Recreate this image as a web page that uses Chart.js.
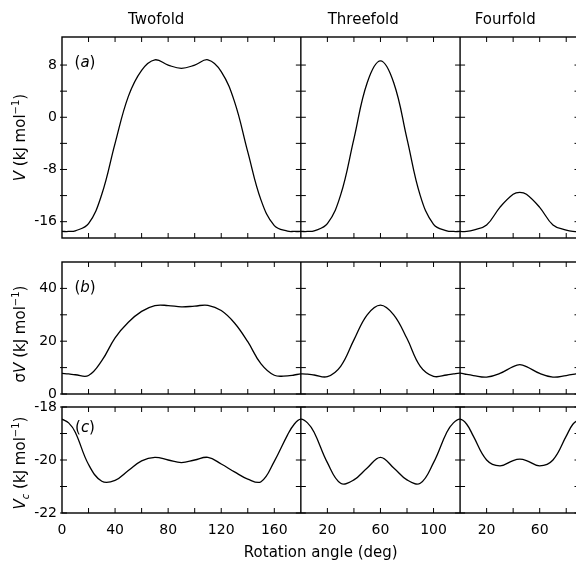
<!DOCTYPE html>
<html>
<head>
<meta charset="utf-8">
<script src="https://cdn.jsdelivr.net/npm/chart.js@4.4.1/dist/chart.umd.min.js"></script>
<style>
  html, body { margin: 0; padding: 0; background: #fff; overflow: hidden; }
  #wrap { position: relative; width: 576px; height: 562px; overflow: hidden; }
  canvas { position: absolute; left: 0; }
</style>
</head>
<body>
<div id="wrap">
  <canvas id="chartA" width="584" height="246" style="top:0px"></canvas>
  <canvas id="chartB" width="584" height="152" style="top:250px"></canvas>
  <canvas id="chartC" width="584" height="165" style="top:397px"></canvas>
</div>
<script>
// rotation angles (deg) sampled in each section
const twofoldAngles = [0, 5, 10, 20, 30, 40, 50, 60, 70, 80, 90, 100, 110, 120, 130, 140, 150, 160, 170, 175, 180];
const threefoldAngles = [0, 5, 10, 20, 30, 40, 50, 60, 70, 80, 90, 100, 110, 115, 120];
const fourfoldAngles = [0, 5, 10, 20, 30, 40, 45, 50, 60, 70, 80, 85, 90];
const sectionNames = ['Twofold', 'Threefold', 'Fourfold'];
const sectionStart = [0, 180, 300];   // where each section begins on the shared axis
const sectionEnd = 390;

// (a) V
const vTwofold = [-17.5, -17.5, -17.4, -16.3, -11.8, -4.0, 3.2, 7.2, 8.8, 8.0, 7.5, 8.0, 8.8, 7.0, 2.4, -5.3, -12.7, -16.6, -17.45, -17.5, -17.5];
const vThreefold = [-17.5, -17.5, -17.4, -16.3, -11.9, -3.3, 5.3, 8.65, 5.3, -3.3, -12.0, -16.4, -17.4, -17.5, -17.5];
const vFourfold = [-17.5, -17.5, -17.3, -16.5, -13.8, -11.8, -11.5, -11.8, -13.8, -16.5, -17.3, -17.5, -17.5];

// (b) sigma V
const sdTwofold = [7.8, 7.6, 7.3, 7.0, 12.6, 21.3, 27.2, 31.3, 33.5, 33.5, 33.0, 33.3, 33.6, 31.6, 26.9, 19.8, 11.4, 7.1, 6.9, 7.2, 7.6];
const sdThreefold = [7.6, 7.5, 7.2, 6.6, 10.5, 20.5, 30.0, 33.7, 30.0, 21.0, 10.5, 6.7, 7.2, 7.6, 7.9];
const sdFourfold = [7.9, 7.4, 7.0, 6.4, 7.8, 10.4, 11.1, 10.4, 7.8, 6.4, 7.0, 7.4, 7.9];

// (c) Vc
const vcTwofold = [-18.46, -18.6, -18.95, -20.17, -20.8, -20.77, -20.4, -20.03, -19.9, -20.0, -20.1, -20.0, -19.9, -20.15, -20.45, -20.72, -20.82, -20.05, -19.05, -18.65, -18.46];
const vcThreefold = [-18.46, -18.6, -18.95, -20.1, -20.88, -20.75, -20.3, -19.9, -20.3, -20.75, -20.88, -20.1, -18.95, -18.6, -18.46];
const vcFourfold = [-18.46, -18.65, -19.1, -20.0, -20.22, -20.02, -19.97, -20.02, -20.22, -20.0, -19.1, -18.65, -18.46];

// axis ticks
const xTickLabels = {0: '0', 40: '40', 80: '80', 120: '120', 160: '160', 200: '20', 240: '60', 280: '100', 320: '20', 360: '60'};
const vTicks = [-16, -12, -8, -4, 0, 4, 8];
const vLabels = [-16, -8, 0, 8];
const sdTicks = [0, 10, 20, 30, 40];
const sdLabels = [0, 20, 40];
const vcTicks = [-22, -21, -20, -19, -18];
const vcLabels = [-22, -20, -18];

const FONT = '"DejaVu Sans", sans-serif';

// join the three sections into one continuous line on the shared axis
function joinSections(a2, a3, a4) {
  const pts = twofoldAngles.map((t, i) => ({x: t + sectionStart[0], y: a2[i]}));
  threefoldAngles.forEach((t, i) => { if (i > 0) pts.push({x: t + sectionStart[1], y: a3[i]}); });
  fourfoldAngles.forEach((t, i) => { if (i > 0) pts.push({x: t + sectionStart[2], y: a4[i]}); });
  return pts;
}

function fontOf(p) {
  return (p.it ? 'italic ' : '') + (p.size || 15) + 'px ' + FONT;
}

// draw text made of several styled pieces, centred on (x, y)
function richText(ctx, parts, x, y, rotated) {
  ctx.save();
  ctx.translate(x, y);
  if (rotated) ctx.rotate(-Math.PI / 2);
  ctx.textBaseline = 'middle';
  ctx.textAlign = 'left';
  ctx.fillStyle = '#000';
  let w = 0;
  parts.forEach(p => { ctx.font = fontOf(p); p.w = ctx.measureText(p.t).width; w += p.w; });
  let cx = -w / 2;
  parts.forEach(p => { ctx.font = fontOf(p); ctx.fillText(p.t, cx, p.dy || 0); cx += p.w; });
  ctx.restore();
}

// frame, section dividers, inward ticks, panel letter and y title
const panelDecor = {
  id: 'panelDecor',
  afterDatasetsDraw(chart, args, opts) {
    const {ctx, chartArea: a, scales: {x, y}} = chart;
    const line = (x1, y1, x2, y2) => { ctx.beginPath(); ctx.moveTo(x1, y1); ctx.lineTo(x2, y2); ctx.stroke(); };
    ctx.save();
    ctx.strokeStyle = '#000';
    ctx.lineWidth = 1;
    const dividers = sectionStart.slice(1).map(v => x.getPixelForValue(v));
    x.ticks.forEach(t => {
      if (sectionStart.includes(t.value)) return;
      const px = x.getPixelForValue(t.value);
      line(px, a.top, px, a.top + 5);
      line(px, a.bottom - 5, px, a.bottom);
    });
    y.ticks.forEach(t => {
      const py = y.getPixelForValue(t.value);
      line(a.left - 2, py, a.left + 5, py);
      dividers.forEach(px => line(px - 5, py, px + 5, py));
      line(a.right - 5, py, a.right, py);
    });
    ctx.lineWidth = 1.4;
    ctx.strokeRect(a.left, a.top, a.right - a.left, a.bottom - a.top);
    dividers.forEach(px => line(px, a.top, px, a.bottom));

    richText(ctx, [{t: '('}, {t: opts.letter, it: true}, {t: ')'}], a.left + 23, a.top + opts.letterDy, false);
    richText(ctx, opts.yTitle, 21, (a.top + a.bottom) / 2 + opts.titleDy, true);

    if (opts.sections) {
      ctx.font = '15px ' + FONT;
      ctx.textAlign = 'center';
      ctx.textBaseline = 'middle';
      ctx.fillStyle = '#000';
      opts.sections.forEach((s, i) => ctx.fillText(sectionNames[i], x.getPixelForValue(s), 20));
    }
    ctx.restore();
  }
};

function makeChart(id, data, yMin, yMax, ticks, labels, decor, padding, showX) {
  return new Chart(document.getElementById(id), {
    type: 'line',
    data: {
      datasets: [{
        data: data,
        borderColor: '#000',
        borderWidth: 1.3,
        pointRadius: 0,
        tension: 0.4,
        fill: false
      }]
    },
    options: {
      responsive: false,
      animation: false,
      layout: {padding: padding},
      plugins: {legend: {display: false}, tooltip: {enabled: false}, panelDecor: decor},
      scales: {
        x: {
          type: 'linear',
          min: 0,
          max: sectionEnd,
          display: showX,
          grid: {display: false, drawTicks: false},
          border: {display: false},
          afterBuildTicks: s => {
            const t = [];
            for (let v = 0; v < sectionEnd; v += 20) t.push({value: v});
            s.ticks = t;
          },
          afterFit: s => {
            s.height = showX ? 49 : 0;
            s.paddingLeft = s.paddingRight = 0;
          },
          ticks: {
            autoSkip: false,
            maxRotation: 0,
            padding: 9,
            color: '#000',
            font: {family: FONT, size: 14},
            callback: v => xTickLabels[v] || ''
          },
          title: {
            display: true,
            text: 'Rotation angle (deg)',
            color: '#000',
            font: {family: FONT, size: 15},
            padding: {top: 0, bottom: 0}
          }
        },
        y: {
          min: yMin,
          max: yMax,
          grid: {display: false, drawTicks: false},
          border: {display: false},
          afterBuildTicks: s => { s.ticks = ticks.map(v => ({value: v})); },
          afterFit: s => {
            s.width = 62;
            s.paddingTop = s.paddingBottom = 0;
          },
          ticks: {
            padding: 5,
            color: '#000',
            font: {family: FONT, size: 14},
            callback: v => labels.includes(v) ? String(v) : ''
          }
        }
      }
    },
    plugins: [panelDecor]
  });
}

const kjmol = [{t: ' (kJ mol'}, {t: '\u22121', size: 10, dy: -5}, {t: ')'}];

makeChart('chartA', joinSections(vTwofold, vThreefold, vFourfold), -18.5, 12.3, vTicks, vLabels,
  {letter: 'a', letterDy: 26, titleDy: 0, yTitle: [{t: 'V', it: true}].concat(kjmol), sections: [71, 227, 334]},
  {top: 37, bottom: 8, left: 0, right: 4.5}, false);

makeChart('chartB', joinSections(sdTwofold, sdThreefold, sdFourfold), 0, 50, sdTicks, sdLabels,
  {letter: 'b', letterDy: 26, titleDy: 6, yTitle: [{t: '\u03c3'}, {t: 'V', it: true}].concat(kjmol)},
  {top: 12, bottom: 8, left: 0, right: 4.5}, false);

makeChart('chartC', joinSections(vcTwofold, vcThreefold, vcFourfold), -22, -18, vcTicks, vcLabels,
  {letter: 'c', letterDy: 21, titleDy: 3, yTitle: [{t: 'V', it: true}, {t: 'c', it: true, size: 10, dy: 5}].concat(kjmol)},
  {top: 10, bottom: 0, left: 0, right: 4.5}, true);
</script>
</body>
</html>
